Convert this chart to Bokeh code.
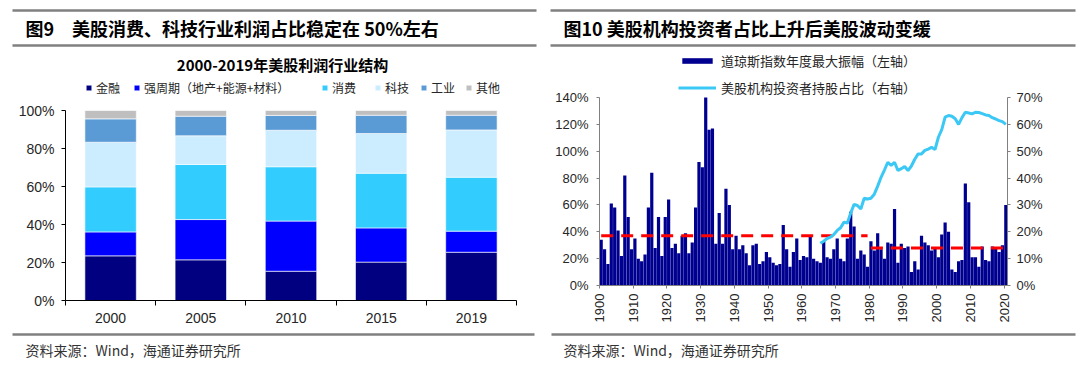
import numpy as np
from bokeh.plotting import figure
from bokeh.models import (Range1d, LinearAxis, FixedTicker, NumeralTickFormatter,
                          Legend, LegendItem, Label, ColumnDataSource)
from bokeh.layouts import column, row
from bokeh.embed import file_html
from bokeh.resources import INLINE

# ---------------- data ----------------
left_years = ["2000", "2005", "2010", "2015", "2019"]
sector_names = ["金融", "强周期（地产+能源+材料）", "消费", "科技", "工业", "其他"]
sector_colors = ["#000080", "#0000FF", "#33CCFF", "#CCECFF", "#5B9BD5", "#BFBFBF"]
finance = [23.5, 21.4, 15.4, 20.2, 25.4]
cyclical = [12.6, 21.2, 26.4, 18.0, 11.1]
consumer = [23.7, 29.0, 28.6, 28.8, 28.4]
tech = [23.5, 15.1, 19.2, 20.9, 24.9]
industry = [12.3, 10.3, 7.8, 9.6, 7.7]
others = [4.4, 3.0, 2.6, 2.5, 2.5]

dow_years = list(range(1900, 2021))
dow_amplitude = [
    34, 27, 16, 61, 58, 41, 22, 82, 51, 27,
    35, 20, 18, 23, 58, 84, 28, 51, 22, 51,
    64, 28, 31, 24, 37, 39, 24, 32, 58, 92,
    88, 140, 116, 117, 31, 54, 31, 72, 60, 27,
    37, 27, 30, 24, 15, 30, 31, 16, 18, 25,
    21, 17, 15, 16, 45, 27, 14, 25, 35, 19,
    22, 21, 37, 20, 18, 17, 33, 21, 20, 27,
    35, 20, 18, 35, 55, 44, 20, 26, 23, 14,
    33, 26, 39, 27, 20, 32, 31, 57, 17, 31,
    28, 29, 10, 18, 12, 37, 32, 30, 26, 28,
    21, 38, 47, 40, 12, 10, 18, 19, 76, 62,
    21, 21, 14, 29, 19, 18, 29, 28, 25, 30, 60,
]
inst_years = list(range(1965, 2021))
inst_share = [
    15.7, 16.5, 17.5, 18.0, 19.0, 20.5, 21.5, 23.6, 23.2, 27.0,
    30.2, 29.8, 28.5, 32.5, 32.2, 32.5, 34.0, 37.0, 40.3, 43.0,
    45.9, 44.7, 45.9, 42.8, 43.5, 44.3, 42.8, 44.5, 47.0, 49.0,
    49.0, 50.3, 50.8, 51.5, 50.6, 55.2, 58.0, 62.7, 63.3, 63.0,
    62.1, 60.0, 62.5, 64.5, 64.2, 63.9, 64.5, 64.4, 64.0, 63.5,
    63.3, 62.5, 62.0, 61.4, 61.0, 60.0,
]
avg_period_start = [1900, 1980]
avg_period_end = [1979, 2020]
avg_period_value = [37, 28]

CJK = "Noto Sans CJK SC"
LAT = "Liberation Sans"
TXT = "#262626"


def deco(height, y_top):
    return figure(width=1080, height=height, x_range=Range1d(0, 1080),
                  y_range=Range1d(y_top + height, y_top),
                  x_axis_type=None, y_axis_type=None, toolbar_location=None,
                  output_backend="svg", min_border=0, outline_line_color=None)


# ---------------- header ----------------
hdr = deco(50, 0)
hdr.segment(x0=[12, 12, 550, 550], y0=[10, 45, 10, 45], x1=[536, 536, 1075, 1075],
            y1=[10, 45, 10, 45], line_color="#808080", line_width=2.5)
for tx, title in ((25, "图9　美股消费、科技行业利润占比稳定在 50%左右"),
                  (563, "图10 美股机构投资者占比上升后美股波动变缓")):
    hdr.add_layout(Label(x=tx, y=27, text=title, text_font=CJK, text_font_size="18px",
                         text_font_style="bold", text_baseline="middle",
                         text_color="#000000"))

# ---------------- footer ----------------
ftr = deco(47, 330)
ftr.segment(x0=[12, 551], y0=[334, 334], x1=[534, 1075], y1=[334, 334],
            line_color="#808080", line_width=2.5)
for tx in (25, 563):
    ftr.add_layout(Label(x=tx, y=349, text="资料来源：Wind，海通证券研究所",
                         text_font=CJK, text_font_size="14px", text_baseline="middle",
                         text_color="#333333"))

# ---------------- left chart ----------------
PX_L = 190.0  # px per 100%
pl = figure(width=540, height=280, x_range=Range1d(0, 5), y_range=Range1d(0, 250 / PX_L),
            toolbar_location=None, output_backend="svg",
            min_border_left=65, min_border_right=24, min_border_top=0, min_border_bottom=30,
            outline_line_color=None)
xs = [i + 0.5 for i in range(len(left_years))]
series = [finance, cyclical, consumer, tech, industry, others]
keys = [f"s{i}" for i in range(len(series))]
src = ColumnDataSource(dict(x=xs, **{k: [v / 100 for v in s] for k, s in zip(keys, series)}))
rs = pl.vbar_stack(keys, x="x", width=0.57, color=sector_colors, source=src,
                   line_color="white", line_width=0.6)
pl.grid.visible = False
ya = pl.yaxis[0]
ya.ticker = FixedTicker(ticks=[0, 0.2, 0.4, 0.6, 0.8, 1.0])
ya.formatter = NumeralTickFormatter(format="0%")
ya.bounds = (0, 1)
ya.major_tick_out = 4
ya.major_tick_in = 0
ya.minor_tick_out = 0
ya.minor_tick_in = 0
ya.major_label_standoff = 7
xa = pl.xaxis[0]
xa.ticker = FixedTicker(ticks=xs, minor_ticks=list(range(len(left_years) + 1)))
xa.major_label_overrides = {x: y for x, y in zip(xs, left_years)}
xa.major_tick_out = 0
xa.major_tick_in = 0
xa.minor_tick_out = 5
xa.minor_tick_in = 0
xa.major_label_standoff = 7
for ax in (xa, ya):
    ax.axis_line_color = "#000000"
    ax.major_tick_line_color = "#000000"
    ax.minor_tick_line_color = "#000000"
    ax.major_label_text_font = LAT
    ax.major_label_text_font_size = "14px"
    ax.major_label_text_color = TXT

pl.add_layout(Label(x=(282 - 65) / 90.2, y=(300 - 64) / PX_L, text="2000-2019年美股利润行业结构",
                    text_font=CJK, text_font_size="15px", text_font_style="bold",
                    text_align="center", text_baseline="middle", text_color="#000000"))
legend_x = [20, 68, 256, 309, 355, 400]  # px from the frame's left edge
for n, r, lx in zip(sector_names, rs, legend_x):
    pl.add_layout(Legend(items=[LegendItem(label=n, renderers=[r])],
                         orientation="horizontal", location=(lx, 204),
                         glyph_width=7, glyph_height=7, label_standoff=4, spacing=0,
                         padding=0, margin=0, border_line_color=None, background_fill_alpha=0,
                         label_text_font=CJK, label_text_font_size="12px",
                         label_text_color=TXT))

# ---------------- right chart ----------------
PX_R = 188 / 1.4  # px per 100% on the left axis
pr = figure(width=540, height=280, x_range=Range1d(1900, 2021), y_range=Range1d(0, 235 / PX_R),
            toolbar_location=None, output_backend="svg",
            min_border_left=59, min_border_right=73, min_border_top=0, min_border_bottom=45,
            outline_line_color=None)
pr.extra_y_ranges = {"right": Range1d(0, 235 / PX_R / 2)}
bars = pr.vbar(x=[y + 0.5 for y in dow_years], top=[v / 100 for v in dow_amplitude],
               width=0.95, color="#000090", line_color=None)
for s, e, v in zip(avg_period_start, avg_period_end, avg_period_value):
    pr.line(x=[s + 0.5, e + 0.5], y=[v / 100, v / 100], line_color="#FF0000",
            line_width=3, line_dash="12 8")
cyan = pr.line(x=[y + 0.5 for y in inst_years], y=[v / 100 for v in inst_share],
               y_range_name="right", line_color="#3CC8F5", line_width=3)
pr.grid.visible = False
ly = pr.yaxis[0]
ly.ticker = FixedTicker(ticks=[round(0.2 * i, 2) for i in range(8)])
ly.formatter = NumeralTickFormatter(format="0%")
ly.bounds = (0, 1.4)
ly.major_label_standoff = 8
ry = LinearAxis(y_range_name="right",
                ticker=FixedTicker(ticks=[round(0.1 * i, 2) for i in range(8)]),
                formatter=NumeralTickFormatter(format="0%"), bounds=(0, 0.7))
ry.major_label_standoff = 6
pr.add_layout(ry, "right")
bx = pr.xaxis[0]
bx.ticker = FixedTicker(ticks=list(range(1900, 2021, 10)))
bx.major_label_orientation = np.pi / 2
bx.major_label_standoff = 5
for ax in (ly, ry, bx):
    ax.axis_line_color = "#808080"
    ax.major_tick_line_color = "#808080"
    ax.major_tick_out = 3
    ax.major_tick_in = 0
    ax.minor_tick_out = 0
    ax.minor_tick_in = 0
    ax.major_label_text_font = LAT
    ax.major_label_text_font_size = "13px"
    ax.major_label_text_color = TXT

leg_r = Legend(items=[LegendItem(label="道琼斯指数年度最大振幅（左轴）", renderers=[bars]),
                      LegendItem(label="美股机构投资者持股占比（右轴）", renderers=[cyan])],
               orientation="vertical", location=(79, 188), glyph_width=38, glyph_height=7,
               label_standoff=5, spacing=8, padding=0, margin=0,
               border_line_color=None, background_fill_alpha=0,
               label_text_font=CJK, label_text_font_size="13px", label_text_color=TXT)
pr.add_layout(leg_r)

# ---------------- layout ----------------
layout = column(hdr, row(column(pl), column(pr)), ftr)
open("out.html", "w").write(file_html(layout, INLINE))
